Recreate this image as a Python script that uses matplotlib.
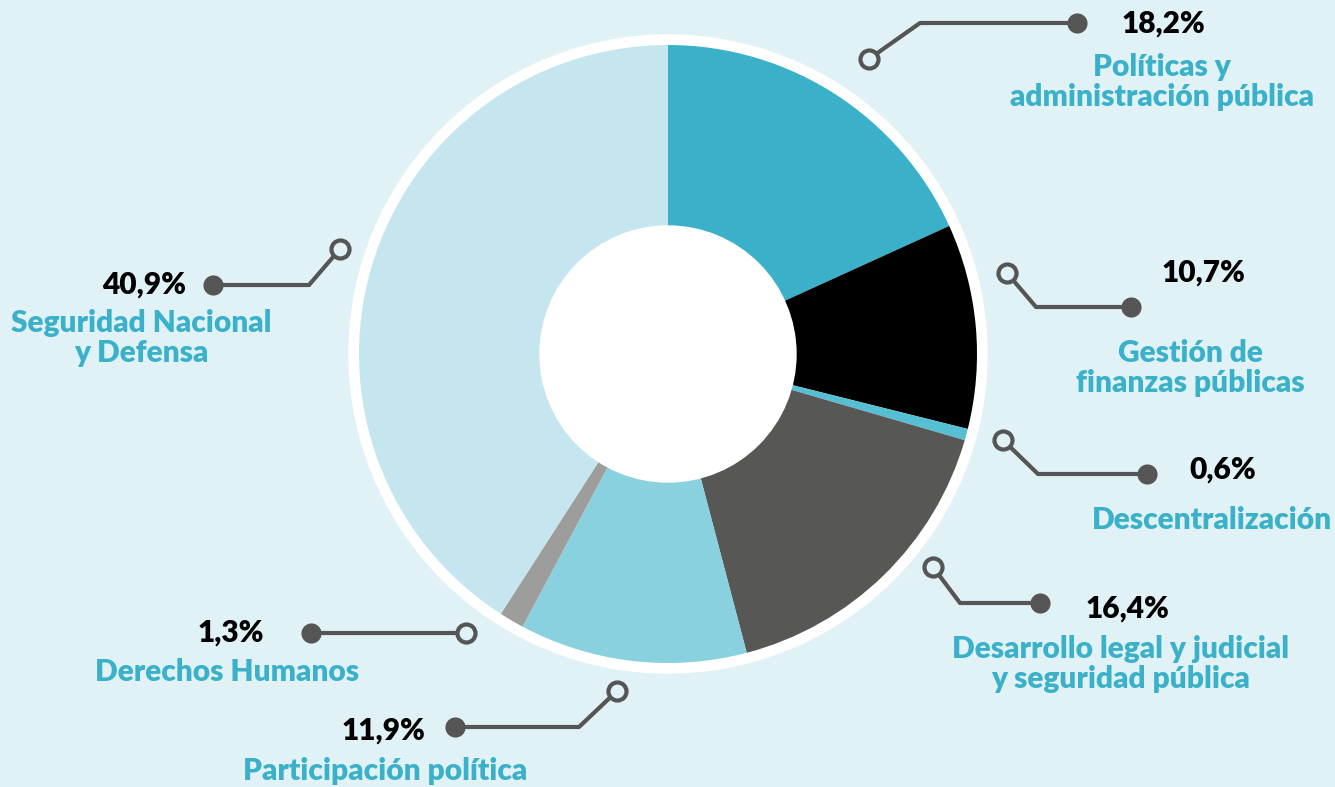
import matplotlib
matplotlib.use("Agg")
from matplotlib import pyplot as plt
from matplotlib.patches import Circle
import numpy as np

# datos
categorias = ["Políticas y\nadministración pública", "Gestión de\nfinanzas públicas",
              "Descentralización", "Desarrollo legal y judicial\ny seguridad pública",
              "Participación política", "Derechos Humanos",
              "Seguridad Nacional\ny Defensa"]
valores = [18.2, 10.7, 0.6, 16.4, 11.9, 1.3, 40.9]
etiquetas = ["18,2%", "10,7%", "0,6%", "16,4%", "11,9%", "1,3%", "40,9%"]
colores = ["#3ab1c9", "#000000", "#56bfd4", "#575756", "#89d1df", "#9d9d9c", "#c5e6ee"]

W, H = 1335, 787
fondo = "#e0f2f6"
azul = "#3ab1c9"
gris = "#555555"

# posiciones (en pixeles, y hacia abajo): circulo abierto, codo, punto final
guias = [
    [(869, 59), (920, 23), (1077, 23)],
    [(1007, 273), (1036, 307), (1131, 307)],
    [(1003, 440), (1038, 474), (1147, 474)],
    [(933, 567), (960, 603), (1040, 603)],
    [(617, 691), (579, 727), (455, 727)],
    [(466, 633), (466, 633), (311, 633)],
    [(340, 249), (309, 285), (213, 285)],
]
pos_pct = [(1163, 24), (1203, 273), (1223, 470), (1127, 609), (383, 731), (231, 633), (144, 285)]
pos_lbl = [(1162, 82), (1190, 368), (1212, 520), (1121, 664), (385, 771), (227, 672), (141, 338)]

def fy(y):
    return H - y

fig1 = plt.figure(figsize=(W / 100, H / 100), dpi=100)
fig1.patch.set_facecolor(fondo)
ax = fig1.add_axes([0, 0, 1, 1])
ax.set_facecolor(fondo)

cx, cy, R = 668, fy(354), 309
ax.add_patch(Circle((cx, cy), R + 10, color='white', zorder=1))
ax.pie(valores, colors=colores, startangle=90, counterclock=False,
       center=(cx, cy), radius=R, frame=True,
       wedgeprops=dict(linewidth=0, zorder=2))
ax.add_patch(Circle((cx, cy), 128, color='white', zorder=3))
ax.set_xlim(0, W)
ax.set_ylim(0, H)
ax.set_aspect('equal')
ax.axis('off')

fuente = ['Lato', 'DejaVu Sans']
for i in range(len(valores)):
    g = guias[i]
    xs = [p[0] for p in g]
    ys = [fy(p[1]) for p in g]
    ax.plot(xs, ys, '-', color=gris, lw=3, solid_capstyle='butt', zorder=4)
    ax.plot(xs[-1], ys[-1], 'o', color=gris, ms=14.5, mec='none', zorder=5)
    ax.plot(xs[0], ys[0], 'o', mfc=fondo, mec=gris, mew=3, ms=13, zorder=5)
    ax.text(pos_pct[i][0], fy(pos_pct[i][1]), etiquetas[i], ha='center', va='center',
            fontsize=21.5, fontweight='heavy', family=fuente, color='black', zorder=6)
    ax.text(pos_lbl[i][0], fy(pos_lbl[i][1]), categorias[i], ha='center', va='center',
            fontsize=21.5, fontweight='heavy', family=fuente, color=azul,
            linespacing=1.08, zorder=6)

fig1.savefig("out.png", dpi=100, facecolor=fondo)
